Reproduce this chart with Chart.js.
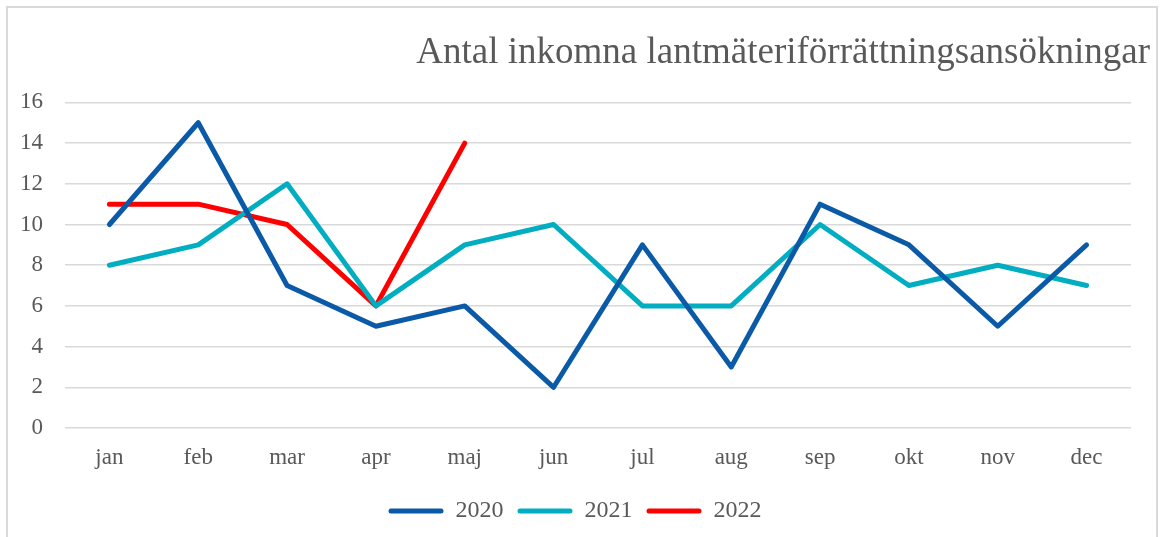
<!DOCTYPE html>
<html>
<head>
<meta charset="utf-8">
<script src="https://cdn.jsdelivr.net/npm/chart.js@4"></script>
<style>
  body { margin: 0; background: #fff; }
  #wrap { position: relative; width: 1165px; height: 537px; }
  #frame { position: absolute; left: 6px; top: 6px; width: 1152px; height: 535px; border: 2px solid #d9d9d9; box-sizing: border-box; }
  canvas { position: absolute; left: 0; top: 0; }
</style>
</head>
<body>
<div id="wrap">
  <div id="frame"></div>
  <canvas id="lineChart" width="1165" height="537"></canvas>
</div>
<script>
const months = ['jan', 'feb', 'mar', 'apr', 'maj', 'jun', 'jul', 'aug', 'sep', 'okt', 'nov', 'dec'];
const values2020 = [10, 15, 7, 5, 6, 2, 9, 3, 11, 9, 5, 9];
const values2021 = [8, 9, 12, 6, 9, 10, 6, 6, 10, 7, 8, 7];
const values2022 = [11, 11, 10, 6, 14];
const yTicks = [0, 2, 4, 6, 8, 10, 12, 14, 16];

const textColor = '#595959';
const serif = "'Liberation Serif', 'Times New Roman', serif";

// simple helper for a dataset
function series(label, data, color) {
  return {
    label: label,
    data: data,
    borderColor: color,
    backgroundColor: color,
    borderWidth: 5,
    tension: 0,
    pointRadius: 0,
    borderCapStyle: 'round',
    borderJoinStyle: 'round',
    yAxisID: 'y'
  };
}

const ctx = document.getElementById('lineChart').getContext('2d');
new Chart(ctx, {
  type: 'line',
  data: {
    labels: months,
    datasets: [
      series('2020', values2020, '#0b5aa8'),
      series('2021', values2021, '#00adc1'),
      series('2022', values2022, '#ff0000')
    ]
  },
  options: {
    responsive: false,
    animation: false,
    layout: { padding: { top: 10, right: 15, bottom: 4, left: 0 } },
    plugins: {
      title: {
        display: true,
        text: 'Antal inkomna lantmäteriförrättningsansökningar',
        align: 'end',
        color: textColor,
        font: { family: serif, size: 37, weight: 'normal' },
        padding: { top: 21, bottom: 27 }
      },
      legend: {
        position: 'bottom',
        labels: {
          color: textColor,
          font: { family: serif, size: 24 },
          boxWidth: 55,
          boxHeight: 5,
          padding: 14,
          generateLabels: function (chart) {
            return chart.data.datasets.map(function (ds, i) {
              return {
                text: ds.label,
                fillStyle: ds.borderColor,
                strokeStyle: ds.borderColor,
                lineWidth: 0,
                borderRadius: 2.5,
                fontColor: textColor,
                datasetIndex: i
              };
            });
          }
        }
      },
      tooltip: { enabled: false }
    },
    scales: {
      x: {
        offset: true,
        afterFit: function (scale) { scale.height = 57; },
        grid: { display: false, drawTicks: false },
        border: { display: false },
        ticks: { color: textColor, font: { family: serif, size: 23 }, padding: 16, maxRotation: 0 }
      },
      y: {
        min: 0,
        max: 16,
        afterFit: function (scale) { scale.width = 65; },
        afterBuildTicks: function (scale) { scale.ticks = yTicks.map(v => ({ value: v })); },
        grid: { color: '#d9d9d9', lineWidth: 1.5, drawTicks: false },
        border: { display: false },
        ticks: { color: textColor, font: { family: serif, size: 23 }, padding: 22 }
      },
      // empty right-hand axis, only keeps the plot narrower than the title
      yRight: {
        position: 'right',
        afterFit: function (scale) { scale.width = 19; },
        grid: { display: false, drawTicks: false },
        border: { display: false },
        ticks: { display: false }
      }
    }
  }
});
</script>
</body>
</html>
